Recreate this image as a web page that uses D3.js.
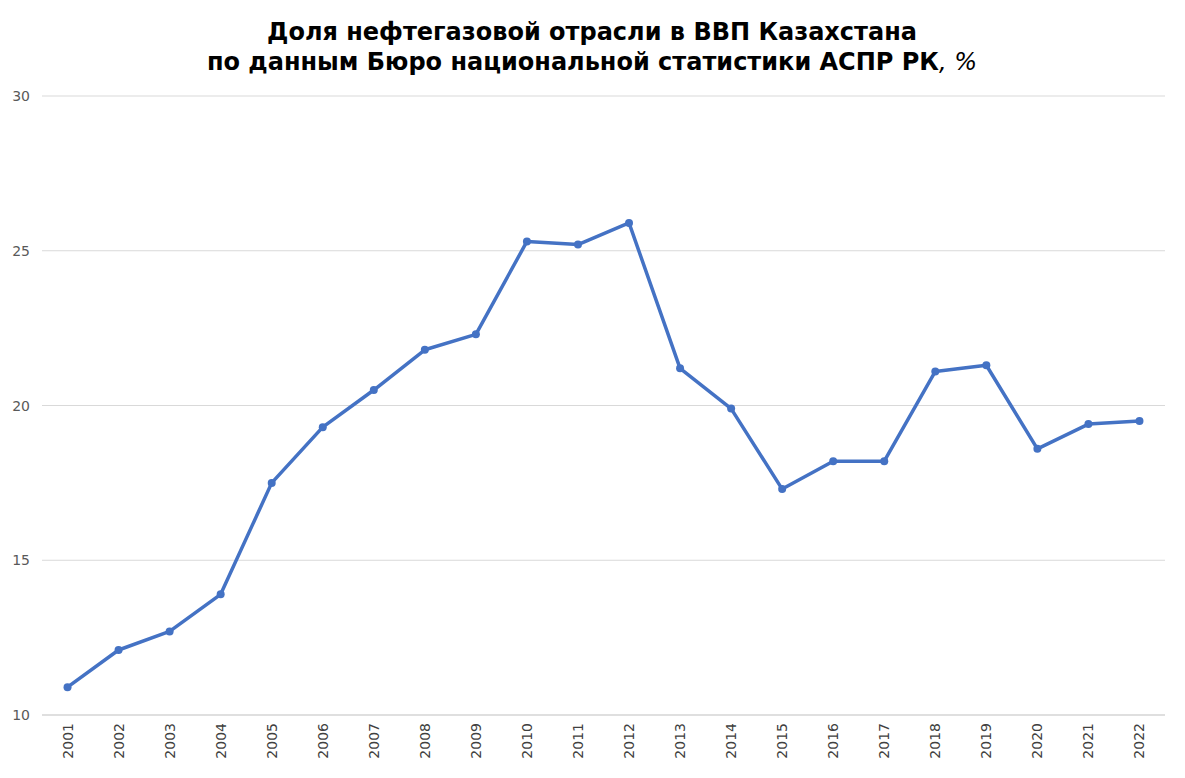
<!DOCTYPE html>
<html><head><meta charset="utf-8">
<script src="https://cdn.jsdelivr.net/npm/d3@7"></script>
<style>body{margin:0;background:#fff;font-family:"DejaVu Sans",Verdana,sans-serif}</style>
</head><body><svg id="c" width="1185" height="778"></svg>
<script>
const years=["2001","2002","2003","2004","2005","2006","2007","2008","2009","2010","2011","2012","2013","2014","2015","2016","2017","2018","2019","2020","2021","2022"];
const values=[10.9,12.1,12.7,13.9,17.5,19.3,20.5,21.8,22.3,25.3,25.2,25.9,21.2,19.9,17.3,18.2,18.2,21.1,21.3,18.6,19.4,19.5];
const yTicks=[10,15,20,25,30];
const svg=d3.select("#c");
const L=42,R=1165,T=96,B=715;
const x=d3.scaleBand().domain(years).range([L,R]);
const y=d3.scaleLinear().domain([10,30]).range([B,T]);
svg.append("g").selectAll("line").data(yTicks).join("line")
 .attr("x1",L).attr("x2",R).attr("y1",d=>y(d)).attr("y2",d=>y(d))
 .attr("stroke",d=>d===10?"#bfbfbf":"#d9d9d9").attr("stroke-width",1);
svg.append("g").selectAll("text").data(yTicks).join("text")
 .attr("x",30).attr("y",d=>y(d)+5).attr("text-anchor","end")
 .attr("font-size",14).attr("fill","#595959").text(d=>d);
svg.append("g").selectAll("text").data(years).join("text")
 .attr("transform",d=>`translate(${x(d)+x.bandwidth()/2+5},${B+8}) rotate(-90)`)
 .attr("text-anchor","end").attr("font-size",14).attr("fill","#404040").text(d=>d);
const cx=d=>x(d)+x.bandwidth()/2;
svg.append("path").datum(values).attr("fill","none").attr("stroke","#4472c4")
 .attr("stroke-width",3.5).attr("stroke-linejoin","round")
 .attr("d",d3.line().x((d,i)=>cx(years[i])).y(d=>y(d)));
svg.append("g").selectAll("circle").data(values).join("circle")
 .attr("cx",(d,i)=>cx(years[i])).attr("cy",d=>y(d)).attr("r",4).attr("fill","#4472c4");
const t=svg.append("text").attr("text-anchor","middle").attr("font-size",24).attr("font-weight","bold").attr("fill","#000");
t.append("tspan").attr("x",592).attr("y",40).text("Доля нефтегазовой отрасли в ВВП Казахстана");
const t2=t.append("tspan").attr("x",592).attr("y",70);
t2.text("по данным Бюро национальной статистики АСПР РК");
t.append("tspan").attr("font-weight","normal").attr("font-style","italic").text(", %");
</script></body></html>
